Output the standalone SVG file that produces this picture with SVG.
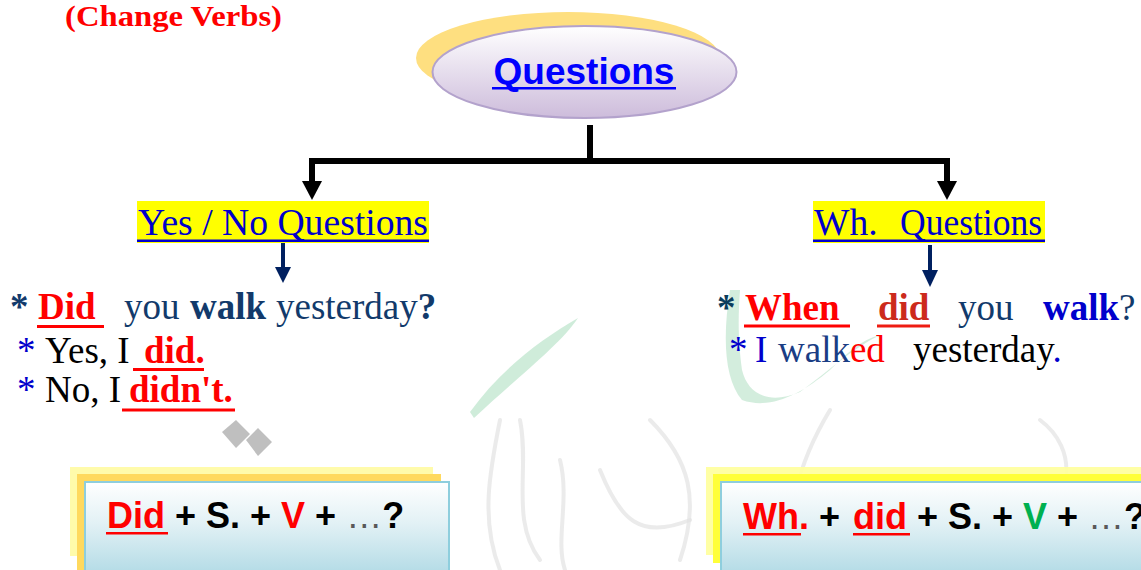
<svg xmlns="http://www.w3.org/2000/svg" width="1141" height="570" viewBox="0 0 1141 570">
  <defs>
    <linearGradient id="ellGrad" x1="0" y1="0" x2="0" y2="1">
      <stop offset="0" stop-color="#ffffff"/>
      <stop offset="1" stop-color="#cdbcdb"/>
    </linearGradient>
    <linearGradient id="boxGrad" x1="0" y1="0" x2="0" y2="1">
      <stop offset="0" stop-color="#ffffff"/>
      <stop offset="0.45" stop-color="#e2f1f5"/>
      <stop offset="1" stop-color="#b3dbe6"/>
    </linearGradient>
    <style>
      .serif { font-family: "Liberation Serif", "Times New Roman", serif; }
      .sans { font-family: "Liberation Sans", Arial, sans-serif; }
      .b { font-weight: bold; }
      .red { fill: #ff0000; }
      .navy { fill: #123a6b; }
      .blue { fill: #0000cc; }
      .blk { fill: #000000; }
      .body { font-size: 37px; }
      .lbl { font-size: 37.5px; fill: #0000cc; }
      .formula { font-size: 36px; font-weight: bold; }
      .conn { stroke: #000; stroke-width: 6; fill: none; }
      .navyArrow { fill: #002060; }
      .wm { fill: none; stroke: #e3e3e3; stroke-width: 4; stroke-linecap: round; opacity: 0.7; }
    </style>
  </defs>
  <rect width="1141" height="570" fill="#ffffff"/>

  <!-- faint watermark -->
  <g id="watermark">
    <path d="M470,412 C500,370 540,340 578,318 C560,345 520,375 474,418 Z" fill="#a8dcbc" opacity="0.55"/>
    <path d="M730,290 C722,340 725,380 742,400 C770,410 800,395 830,370 C845,355 860,340 880,335 C850,350 830,370 800,392 C770,405 748,395 742,370 C738,340 738,318 740,290 Z" fill="#a8dcbc" opacity="0.5"/>
    <path d="M222,432 L236,420 L250,434 L236,448 Z M246,440 L258,428 L272,442 L258,456 Z" fill="#a9a9a9" opacity="0.75"/>
    <path class="wm" d="M500,420 C490,470 480,520 500,570"/>
    <path class="wm" d="M520,420 C530,470 510,520 540,560"/>
    <path class="wm" d="M560,460 C570,500 555,540 565,570"/>
    <path class="wm" d="M600,470 C620,520 640,540 690,520"/>
    <path class="wm" d="M650,420 C690,460 700,500 680,560"/>
    <path class="wm" d="M830,410 C800,460 780,520 800,570"/>
    <path class="wm" d="M1040,420 C1080,450 1070,500 1040,520"/>
    <path class="wm" d="M920,520 C950,480 1000,470 1020,510 C1000,550 950,560 920,520"/>
  </g>

  <!-- title -->
  <text id="title" class="serif b red" x="65" y="26" font-size="29.5" textLength="217" lengthAdjust="spacingAndGlyphs">(Change Verbs)</text>

  <!-- root node -->
  <g id="node-questions">
    <ellipse cx="568" cy="58" rx="152" ry="46" fill="#fedf80"/>
    <ellipse cx="584.5" cy="72" rx="152" ry="46" fill="url(#ellGrad)" stroke="#b3a2cc" stroke-width="2"/>
    <text class="sans b" x="584" y="84" font-size="37" fill="#0000ff" text-anchor="middle">Questions</text>
    <rect x="492" y="87" width="184" height="2.5" fill="#0000ff"/>
  </g>

  <!-- connectors -->
  <g id="connectors">
    <line class="conn" x1="590" y1="125" x2="590" y2="158" stroke-width="5"/>
    <path class="conn" d="M312,181 L312,161 L947,161 L947,181" stroke-linejoin="miter"/>
    <path d="M302,181 L322,181 L312,200 Z" fill="#000"/>
    <path d="M937,181 L957,181 L947,200 Z" fill="#000"/>
    <rect x="281" y="243" width="4" height="25" class="navyArrow"/>
    <path d="M275,267 L291,267 L283,283 Z" class="navyArrow"/>
    <rect x="928" y="245" width="4" height="26" class="navyArrow"/>
    <path d="M922,270 L938,270 L930,287 Z" class="navyArrow"/>
  </g>

  <!-- Yes/No label -->
  <g id="node-yesno">
    <rect x="137" y="201" width="292" height="42" fill="#ffff00"/>
    <text class="serif lbl" x="138" y="235" textLength="290" lengthAdjust="spacingAndGlyphs">Yes / No Questions</text>
    <rect x="137" y="239.5" width="292" height="2.5" fill="#0000cc"/>
  </g>

  <!-- Wh label -->
  <g id="node-wh">
    <rect x="813" y="201" width="232" height="42" fill="#ffff00"/>
    <text class="serif lbl" x="814" y="235">Wh.</text>
    <text class="serif lbl" x="900" y="235" textLength="142" lengthAdjust="spacingAndGlyphs">Questions</text>
    <rect x="813" y="239.5" width="232" height="2.5" fill="#0000cc"/>
  </g>

  <!-- Yes/No examples -->
  <g id="node-yesno-examples" class="serif body">
    <text y="319"><tspan x="10" class="b navy">*</tspan><tspan x="38" class="b red">Did</tspan><tspan x="124" class="navy">you</tspan><tspan x="190" class="b navy">walk</tspan><tspan x="276" class="navy">yesterday</tspan><tspan class="b navy">?</tspan></text>
    <rect x="37" y="325" width="67" height="3" fill="#ff0000"/>
    <text y="363"><tspan x="17" class="blue">*</tspan><tspan x="45" class="blk">Yes, I</tspan><tspan x="144" class="b red">did.</tspan></text>
    <rect x="133" y="368" width="71" height="3" fill="#ff0000"/>
    <text y="402"><tspan x="17" class="blue">*</tspan><tspan x="45" class="blk">No, I</tspan><tspan x="129" class="b red">didn't.</tspan></text>
    <rect x="122" y="408.5" width="113" height="3" fill="#ff0000"/>
  </g>

  <!-- Wh examples -->
  <g id="node-wh-examples" class="serif body">
    <text y="320"><tspan x="717" class="b" fill="#0b3d5c">*</tspan><tspan x="745" class="b red">When</tspan><tspan x="878" class="b" fill="#cc2a1c">did</tspan><tspan x="958" class="navy">you</tspan><tspan x="1043" class="b blue">walk</tspan><tspan class="navy">?</tspan></text>
    <rect x="744" y="324.5" width="106" height="3" fill="#ff0000"/>
    <rect x="877" y="324.5" width="53" height="3" fill="#ee1c12"/>
    <text y="362"><tspan x="729" class="blue">*</tspan><tspan x="755" class="blue">I</tspan><tspan x="778" fill="#1a3d84">walk</tspan><tspan class="red">ed</tspan><tspan x="913" class="blk">yesterday</tspan><tspan class="blue">.</tspan></text>
  </g>

  <!-- Yes/No formula box -->
  <g id="node-formula-did">
    <rect x="70" y="467" width="363" height="89" fill="#fffba6" opacity="0.95"/>
    <rect x="77" y="474" width="364" height="96" fill="#ffd95e"/>
    <rect x="85" y="482" width="364" height="92" fill="url(#boxGrad)" stroke="#8ecedd" stroke-width="2"/>
    <text class="sans formula" y="528"><tspan x="107" class="red">Did</tspan><tspan class="blk"> + S. + </tspan><tspan class="red">V</tspan><tspan class="blk"> + </tspan><tspan fill="#595959" font-weight="normal">…</tspan><tspan class="blk">?</tspan></text>
    <rect x="106" y="532" width="62" height="2.5" fill="#ff0000"/>
  </g>

  <!-- Wh formula box -->
  <g id="node-formula-wh">
    <rect x="706" y="467" width="440" height="88" fill="#ffffa0" opacity="0.95"/>
    <rect x="713" y="474" width="433" height="89" fill="#ffff3a"/>
    <rect x="721" y="482" width="430" height="92" fill="url(#boxGrad)" stroke="#8ecedd" stroke-width="2"/>
    <text class="sans formula" y="529"><tspan x="743" class="red">Wh</tspan><tspan class="red">.</tspan><tspan class="blk"> + </tspan><tspan x="853" class="red">did</tspan><tspan class="blk"> + S. + </tspan><tspan fill="#00b050">V</tspan><tspan class="blk"> + </tspan><tspan fill="#595959" font-weight="normal">…</tspan><tspan class="blk">?</tspan></text>
    <rect x="743" y="533" width="58" height="2.5" fill="#ff0000"/>
    <rect x="853" y="533" width="57" height="2.5" fill="#ff0000"/>
  </g>
</svg>
